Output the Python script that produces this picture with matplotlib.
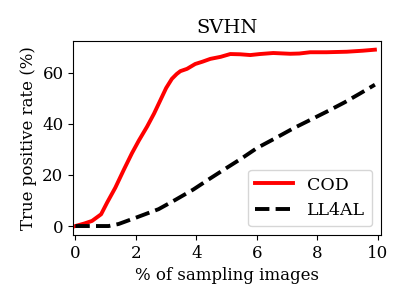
import numpy as np
import matplotlib
matplotlib.use('Agg')
import matplotlib.pyplot as plt

plt.rcParams['font.family'] = 'DejaVu Serif'

# % of sampling images vs true positive rate
cod_x = [0, 0.3, 0.55, 0.85, 1.05, 1.32, 1.6, 1.87, 2.1, 2.37, 2.6, 2.8, 3.0, 3.19, 3.35, 3.47,
         3.69, 3.96, 4.2, 4.46, 4.8, 5.12, 5.45, 5.78, 6.1, 6.54, 7.1, 7.4, 7.76, 8.3, 8.97, 9.5, 9.9]
cod_y = [0, 1.0, 2.0, 4.6, 9.2, 15, 22, 28.5, 33.5, 38.9, 44, 49, 54, 57.6, 59.5, 60.6,
         61.5, 63.4, 64.3, 65.4, 66.2, 67.3, 67.2, 66.9, 67.3, 67.7, 67.4, 67.5, 68.0, 68.0, 68.2, 68.6, 69.0]

ll4al_x = [0, 0.5, 1.1, 1.43, 2.03, 2.75, 3.3, 3.9, 4.4, 4.9, 5.5, 6.0, 6.6, 7.2, 7.76, 8.3, 8.9, 9.4, 9.9]
ll4al_y = [0, 0, 0, 0.8, 3.4, 6.6, 10.2, 14.3, 18.2, 22.0, 26.5, 30.5, 34.3, 38.2, 41.5, 44.7, 48.4, 51.8, 55.3]

fig, ax = plt.subplots(figsize=(4.07, 3.05), dpi=100)
ax.plot(cod_x, cod_y, color='red', linewidth=2.8, label='COD')
ax.plot(ll4al_x, ll4al_y, color='black', linewidth=2.8, linestyle='--', label='LL4AL')

ax.set_xlim(-0.07, 10.1)
ax.set_xticks([0, 2, 4, 6, 8, 10])
ax.set_yticks([0, 20, 40, 60])
ax.tick_params(labelsize=12)
ax.set_xlabel('% of sampling images', fontsize=12)
ax.set_ylabel('True positive rate (%)', fontsize=12)
ax.set_title('SVHN', fontsize=14)
ax.legend(loc='lower right', fontsize=12.5, handlelength=2.2)

fig.subplots_adjust(left=0.18, right=0.936, top=0.866, bottom=0.23)
fig.savefig('out.png', dpi=100)
